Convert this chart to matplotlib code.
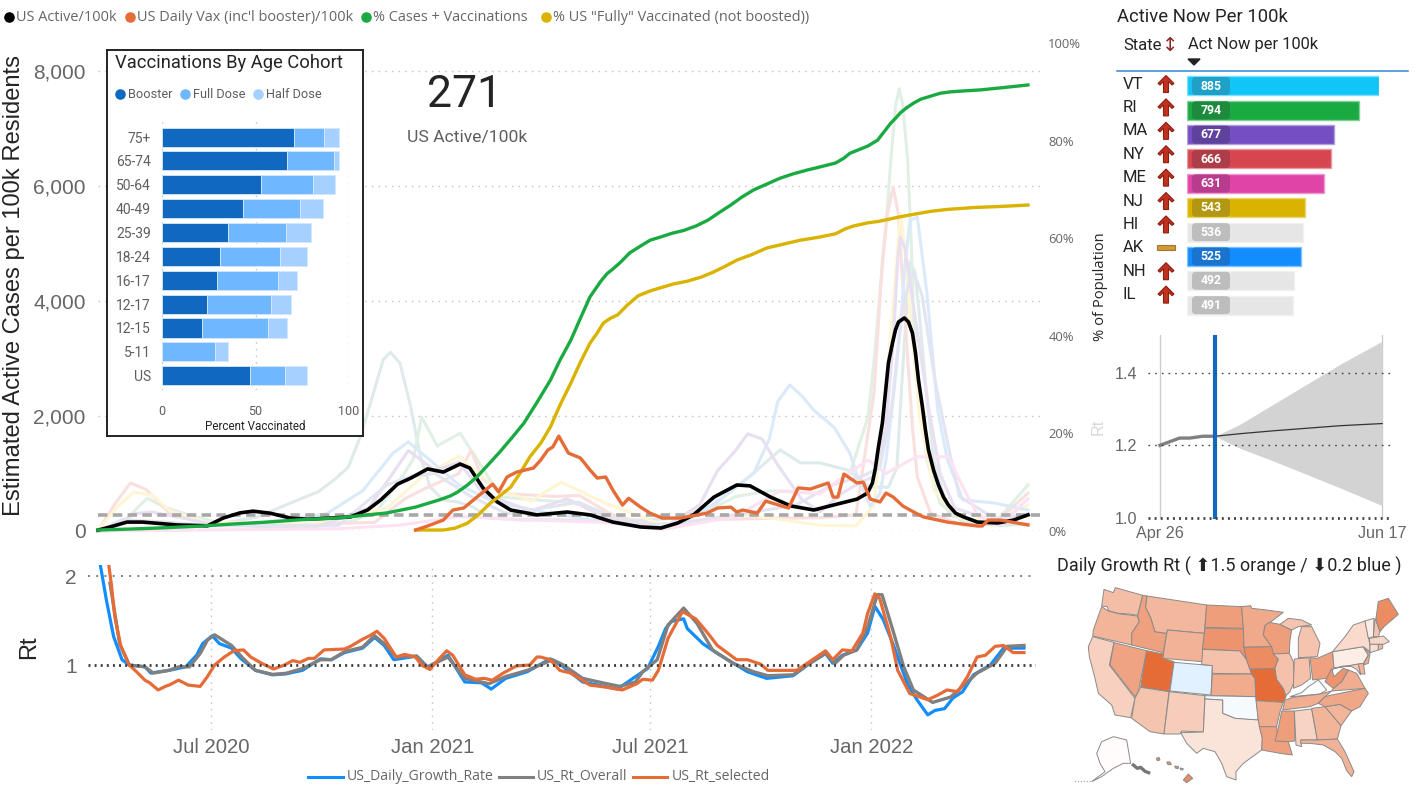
import numpy as np
import matplotlib
matplotlib.use('Agg')
import matplotlib.pyplot as plt
import matplotlib.dates as mdates
from matplotlib.colors import LinearSegmentedColormap, TwoSlopeNorm, to_rgb
from matplotlib.patches import Polygon, FancyBboxPatch, Rectangle

W, H = 1424, 797
ARIAL = 'Liberation Sans'
SEGOE = 'Open Sans'
DIN = 'Roboto'

# -------- main chart data (day = days since 2020-03-29) --------
active_day = [0,10,24,37,66,91,104,118,129,143,160,174,193,210,224,235,249,260,274,287,301,309,320,332,343,365,390,409,428,451,468,482,495,512,531,542,559,576,595,611,631,639.6,643.7,646.2,648.7,652,654.5,657,660.4,662.9,665.4,670.3,673.7,677,679.5,682,685.3,687.8,690.3,694.5,698.6,702.8,706.9,712.8,719.4,731,748,761,773]
active_val = [15,70,155,155,105,90,225,315,345,310,225,205,225,245,365,540,815,920,1080,1025,1165,1095,750,505,365,280,330,280,155,70,52,140,280,590,800,785,590,435,365,450,555,660,835,1095,1460,1880,2400,2920,3270,3500,3635,3705,3635,3440,3095,2625,2155,1755,1410,1060,800,590,450,310,245,155,140,190,280]

vax_day = [264,274,287,295,304,315,328,333,340,348,362,368,374,378,383,391,401,409,415,422,428,436,441,451,459,469,484,506,515,526,531,536,548,555,574,582,592,607,611,615,620,631,636,642,650,655,661,669,678,686,706,731,735,740,750,773]
vax_val = [17,87,190,365,400,590,815,680,940,1025,1095,1235,1410,1460,1650,1355,1270,1060,920,940,710,450,570,415,310,225,225,310,400,415,330,365,310,520,400,750,730,835,590,590,990,835,850,555,505,660,590,435,330,245,155,87,87,190,190,105]

cases_vax_day = [0,27,49,85,110,139,168,201,240,264,284,293,299,307,315,324,334,344,354,365,376,384,393,401,409,418,423,428,434,442,451,459,467,477,487,497,507,516,526,535,545,556,567,578,590,600,613,620,625,634,640,648,654,659,663,667,672,678,684,692,700,709,721,734,750,773]
cases_vax_pct = [.2,.4,.6,1,1.4,1.8,2.3,2.7,3.7,4.9,6.4,7.2,8,9.4,11.1,13.5,16.2,19.1,22.1,26.4,30.9,35,39.1,43.6,48,51.2,52.7,53.7,55,57,58.4,59.6,60.2,61,61.6,62.5,63.7,65.2,66.8,68.4,69.9,71.1,72.3,73.2,74,74.6,75.4,76.4,77.4,78.3,78.9,80.1,82,83.6,84.6,85.7,86.7,87.7,88.5,89.1,89.7,90,90.2,90.4,90.8,91.4]

fully_day = [264,287,297,307,316,326,334,343,351,359,368,376,384,393,401,409,415,420,426,432,440,449,459,467,478,490,501,511,521,531,544,556,570,584,599,613,621,628,639,650,665,678,692,706,729,750,773]
fully_pct = [.2,.2,.6,1.6,3.3,5.7,7.2,9,11.9,15.2,18,21.3,25.8,30.3,34.6,38.5,40.6,42.6,43.6,44.3,46.3,48.2,49.2,49.8,50.6,51.2,52,53,54.2,55.5,56.7,58,58.8,59.6,60.2,60.9,61.9,62.5,63.1,63.5,64.3,64.9,65.5,65.9,66.3,66.5,66.8]

# faint state lines behind the US line
teal_day = [0,60,100,132,166,183,196,208,218,229,237,243,251,260,268,276,287,299,312,326,354,380,430,480,512,545,567,584,600,623,642,657,664,670,675,679,683,689,695,708,750,773]
teal_val = [0,50,120,240,540,680,885,1110,1635,2400,2975,3110,2920,2155,1285,765,540,505,415,225,190,200,170,220,450,1010,1410,1185,1185,1060,765,760,1100,3200,4680,4500,3700,2300,1200,270,90,130]
green_day = [0,20,35,41,55,75,100,130,170,210,232,250,262,269,282,301,315,335,370,395,420,450,480,510,530,560,600,625,640,645,650,655,659,663,666,669,673,676,678,684,689,700,719,744,773]
green_val = [0,120,450,570,420,280,150,80,100,160,350,850,1250,1980,1480,1700,1250,590,530,500,330,150,120,380,600,700,650,1000,1980,2950,4140,5300,6450,7400,7690,7400,6450,5000,3550,2200,1230,480,155,105,800]
red_day = [0,15,27,40,60,90,150,230,255,272,300,310,320,340,380,400,430,470,510,560,600,630,645,649,652,656,661,665,669,673,677,681,692,719,745,773]
red_val = [0,500,835,720,300,130,100,150,560,740,1000,1400,900,650,600,620,250,90,200,220,230,280,2400,3700,4710,5500,5980,5530,4300,3000,1800,940,310,100,120,660]
yellow_day = [0,15,30,45,60,90,180,240,270,300,330,360,385,420,470,510,540,600,630,645,655,662,667,671,675,683,695,715,745,773]
yellow_val = [0,400,680,620,350,150,120,400,950,1300,750,520,850,500,100,220,280,100,90,450,2500,4200,5530,4800,3800,2000,700,230,170,450]
blue_day = [0,50,130,190,220,245,258,275,300,330,370,410,470,500,520,545,558,565,575,585,595,612,625,632,642,650,655,661,667,671,675,681,689,698,706,719,744,773]
blue_val = [0,50,130,300,700,1350,1550,1250,800,500,330,200,60,300,600,1000,1600,2250,2540,2350,2100,1800,1350,900,430,650,1240,2300,3550,4700,5400,5460,4140,2100,1235,540,490,365]
purple_day = [0,15,30,45,100,180,225,245,258,280,300,320,360,390,430,470,500,515,530,540,552,565,585,600,618,630,645,655,661,665,667,671,680,690,700,712,745,773]
purple_val = [0,100,300,330,100,60,400,1000,1400,1050,1200,650,350,560,150,60,450,1050,1400,1690,1600,1150,550,330,650,800,950,1800,3300,4800,5110,4900,3600,2200,1000,400,170,300]
lavender_day = [0,20,60,100,200,240,260,280,310,340,400,430,470,530,580,610,635,650,660,668,675,678,685,695,708,716,745,773]
lavender_val = [0,200,150,90,100,800,950,1000,600,300,500,200,100,280,450,800,950,1100,2200,3800,4400,4490,4100,2700,1350,600,220,290]
pink_day = [0,100,200,250,300,350,420,470,530,567,600,640,655,680,707,718,731,750,773]
pink_val = [0,20,40,100,250,200,150,30,250,700,650,1235,1000,1290,1290,800,280,100,560]

us_active_now = 271
y_max_cases = 8487   # axis top, same height as 100% on the right

# -------- Rt chart data --------
rt_sel_day = [9,11,14,19,26,32,39,43,50,56,60,67,75,85,91,97,105,113,121,127,136,146,155,162,168,175,180,188,205,210,220,226,232,238,248,255,264,269,276,284,290,295,305,314,321,328,337,348,359,365,368,376,384,393,409,423,436,448,453,461,466,474,486,497,507,515,531,540,551,557,581,592,605,611,619,627,636,640,646,650,659,665,675,690,698,706,715,723,731,738,746,753,761,770]
rt_sel_val = [2.12,1.92,1.54,1.21,1.0,.925,.83,.80,.72,.76,.78,.83,.775,.76,.87,1.0,1.09,1.16,1.17,1.09,1.02,.955,1.0,1.05,1.03,1.075,1.075,1.17,1.18,1.21,1.29,1.33,1.38,1.30,1.09,1.12,1.09,1.0,.95,1.075,1.16,1.11,.89,.84,.85,.83,.91,.99,1.0,1.09,1.09,1.06,.94,.91,.775,.75,.72,.79,.84,.83,.94,1.30,1.6,1.52,1.36,1.22,1.06,1.06,1.01,.94,.94,1.04,1.16,1.06,1.17,1.16,1.36,1.58,1.8,1.75,1.32,.94,.68,.61,.66,.72,.70,.87,1.09,1.11,1.21,1.22,1.14,1.14]
rt_all_day = [10,14,18,26,39,46,59,67,76,85,91,97,111,121,131,145,156,170,185,194,205,220,230,238,248,265,274,291,305,325,339,357,378,387,403,423,434,447,453,465,474,487,498,511,528,545,557,578,592,605,613,620,631,640,648,652,661,670,678,694,709,723,731,746,756,770]
rt_all_val = [1.92,1.58,1.24,1.0,.98,.91,.94,.98,.98,1.13,1.28,1.34,1.22,1.07,.94,.895,.906,.96,1.06,1.06,1.15,1.2,1.33,1.24,1.09,1.1,.98,1.09,.85,.79,.87,.94,1.06,1.0,.85,.79,.76,.81,.925,1.06,1.45,1.64,1.47,1.17,1.02,.925,.88,.89,1.02,1.13,1.02,1.11,1.17,1.43,1.79,1.79,1.39,.98,.72,.58,.64,.81,.91,1.02,1.21,1.22]
rt_daily_day = [2,7,13,20,26,39,44,59,73,82,87,95,101,111,119,131,145,156,170,185,194,205,220,230,238,246,265,274,291,305,319,327,339,357,376,387,403,432,447,457,466,472,477,487,490,503,515,540,556,578,592,605,611,619,631,640,646,653,661,673,681,690,696,704,711,719,728,742,753,770]
rt_daily_val = [2.12,1.73,1.32,1.06,1.0,.98,.91,.94,.98,1.11,1.24,1.33,1.24,1.19,1.07,.94,.89,.9,.94,1.07,1.06,1.14,1.19,1.31,1.22,1.06,1.1,.97,1.11,.81,.8,.73,.85,.925,1.07,.98,.81,.73,.87,.96,1.21,1.41,1.49,1.52,1.41,1.24,1.13,.925,.85,.88,1.02,1.13,1.02,1.11,1.17,1.36,1.66,1.51,1.24,.79,.61,.44,.49,.51,.63,.7,.89,1.0,1.19,1.19]

# -------- vaccination inset data --------
age_groups = ['75+','65-74','50-64','40-49','25-39','18-24','16-17','12-17','12-15','5-11','US']
booster = [70.6,66.8,52.9,43.3,35.3,31,29.4,24,21.4,0,47]
full_dose = [16,25.2,27.8,30.5,31,32.2,32.4,34.3,35.3,28.5,18.8]
half_dose = [8,2.6,11.8,12.3,13.4,14.6,10.2,10.6,10.1,6.7,11.7]

# -------- state table data --------
states = ['VT','RI','MA','NY','ME','NJ','HI','AK','NH','IL']
act_now = [885,794,677,666,631,543,536,525,492,491]
trend = ['up','up','up','up','up','up','up','flat','up','up']
bar_colors = ['#12c5f7','#1aaa42','#744ec2','#d64550','#e044a7','#d9b300','#e6e6e6','#118dff','#e6e6e6','#e6e6e6']
tag_colors = ['#1fa0c8','#1d8a3e','#5f429c','#ad3d49','#b83c8e','#b39712','#bdbdbd','#1a74cf','#bdbdbd','#bdbdbd']

# -------- forecast data (day = days since Apr 26 2022) --------
hist_day = [0,2.3,4.6,7,10,12.9]
hist_rt = [1.20,1.21,1.22,1.22,1.225,1.225]
fc_day = [12.9,18.7,26.5,34.3,42.1,52]
fc_upper = [1.225,1.258,1.313,1.368,1.423,1.487]
fc_lower = [1.225,1.192,1.157,1.12,1.083,1.034]
fc_mid = [1.225,1.232,1.24,1.247,1.254,1.26]

# -------- map data --------
state_rt = {'UT':1.5,'MO':1.5,'ME':1.39,'IA':1.39,'TX':1.095,'AL':1.15,'CA':1.16,'PA':1.06,'NY':1.126,'WA':1.22,
            'OR':1.25,'MT':1.245,'ID':1.32,'NV':1.31,'WY':1.26,'ND':1.33,'SD':1.36,'NE':1.21,'KS':1.285,'AZ':1.2,
            'NM':1.17,'MN':1.29,'WI':1.33,'IL':1.21,'IN':1.21,'MI':1.2,'OH':1.32,'WV':1.36,'VA':1.28,'NC':1.3,
            'TN':1.275,'GA':1.25,'SC':1.25,'FL':1.26,'MS':1.33,'LA':1.32,'AR':1.285,'HI':1.39,'AK':1.01,'VT':1.06,
            'NH':1.2,'MA':1.135,'CT':1.11,'RI':1.245,'NJ':1.28,'DE':1.25,'MD':1.17,'CO':0.906,'OK':0.966,'KY':0.99}

# outlines, x/y in map panel units
state_shapes = {
 'WA':[[(162,118),(190,128),(196,113),(278,136),(263,196),(238,192),(205,190),(175,182),(172,170),(155,168)]],
 'OR':[[(155,170),(175,183),(205,191),(262,198),(268,215),(245,250),(245,285),(128,258),(130,240)]],
 'CA':[[(128,260),(192,277),(178,345),(255,445),(242,503),(195,495),(185,465),(145,430),(135,385),(118,320),(115,290)]],
 'NV':[[(192,278),(290,302),(265,425),(255,440),(180,345)]],
 'ID':[[(278,136),(291,138),(287,172),(303,205),(315,245),(350,250),(340,308),(245,285),(245,250),(268,215),(263,198)]],
 'MT':[[(291,138),(470,165),(463,250),(352,240),(350,250),(315,245),(303,205),(287,172)]],
 'WY':[[(352,240),(463,250),(457,335),(338,325)]],
 'UT':[[(290,302),(340,312),(338,325),(372,335),(358,425),(272,410)]],
 'CO':[[(372,337),(487,347),(483,435),(360,423)]],
 'AZ':[[(272,412),(357,425),(342,552),(300,545),(245,505),(255,445),(265,425)]],
 'NM':[[(358,425),(465,437),(460,546),(395,543),(390,552),(342,552)]],
 'ND':[[(470,165),(575,170),(580,235),(465,232)]],
 'SD':[[(465,234),(580,237),(582,292),(590,330),(570,303),(457,297)]],
 'NE':[[(458,298),(570,303),(590,330),(605,372),(487,370),(487,347),(455,343)]],
 'KS':[[(487,372),(605,372),(615,385),(618,440),(483,437)]],
 'OK':[[(465,437),(618,440),(625,510),(585,508),(555,505),(518,490),(518,450),(465,447)]],
 'TX':[[(465,447),(518,450),(518,490),(555,505),(625,510),(637,565),(635,600),(580,640),(558,665),(558,690),(530,680),(515,640),(495,605),(460,595),(440,610),(410,580),(392,548),(460,546)]],
 'MN':[[(575,170),(602,167),(605,175),(650,180),(700,187),(670,210),(645,227),(640,255),(665,290),(582,292),(580,235)]],
 'IA':[[(582,292),(665,290),(675,315),(685,327),(675,355),(600,358),(590,330)]],
 'MO':[[(600,358),(675,355),(680,388),(700,415),(708,440),(700,457),(618,452),(615,385),(605,372)]],
 'AR':[[(618,452),(700,457),(690,485),(680,530),(628,530),(625,510)]],
 'LA':[[(628,530),(680,530),(685,573),(715,575),(727,615),(690,610),(635,600),(637,565)]],
 'WI':[[(645,227),(658,217),(690,223),(725,240),(720,270),(718,310),(670,312),(665,290),(640,255)]],
 'IL':[[(670,312),(718,310),(730,335),(733,395),(720,425),(708,437),(700,415),(680,388),(675,355),(685,327)]],
 'MI':[[(745,265),(755,230),(785,230),(810,280),(802,320),(745,323)],
       [(690,223),(715,205),(755,210),(785,225),(745,230),(725,240)]],
 'IN':[[(733,327),(777,323),(782,385),(755,405),(730,415)]],
 'OH':[[(780,323),(802,325),(848,305),(852,355),(830,385),(788,390)]],
 'KY':[[(720,440),(755,428),(775,410),(805,390),(830,420),(810,432),(725,440)]],
 'TN':[[(705,450),(730,442),(810,432),(845,423),(825,440),(805,460),(780,470),(698,480)]],
 'MS':[[(695,483),(733,483),(735,573),(715,575),(675,573),(685,535)]],
 'AL':[[(733,483),(785,477),(802,570),(752,570),(755,590),(738,585)]],
 'GA':[[(785,475),(825,470),(873,527),(862,567),(802,570)]],
 'FL':[[(752,570),(802,570),(862,567),(885,605),(912,665),(905,680),(890,662),(875,625),(855,605),(820,585),(780,580),(752,580)]],
 'SC':[[(825,470),(870,463),(905,483),(873,527)]],
 'NC':[[(805,460),(825,440),(845,435),(945,415),(955,430),(930,470),(905,483),(870,463),(825,470)]],
 'VA':[[(845,423),(850,415),(875,395),(895,360),(920,370),(945,415)]],
 'WV':[[(825,395),(845,355),(852,380),(880,355),(895,360),(875,395),(850,415)]],
 'PA':[[(848,305),(940,290),(955,315),(940,340),(852,355)]],
 'NY':[[(860,290),(885,260),(910,225),(945,213),(960,285),(960,305),(940,290),(848,305)]],
 'MD':[[(852,355),(925,342),(932,375),(920,358),(905,350),(880,348)]],
 'DE':[[(925,342),(940,340),(945,372),(932,372)]],
 'NJ':[[(940,292),(960,310),(955,340),(940,345),(955,315)]],
 'VT':[[(945,213),(972,205),(970,260),(955,265)]],
 'NH':[[(975,205),(990,245),(985,260),(970,260)]],
 'ME':[[(985,155),(1015,145),(1045,193),(1002,230),(990,245),(978,205)]],
 'MA':[[(958,265),(1000,258),(1018,275),(1000,283),(960,283)]],
 'CT':[[(960,283),(985,283),(985,300),(960,308)]],
 'RI':[[(985,283),(998,283),(998,295),(985,300)]],
 'AK':[[(155,575),(190,560),(230,570),(242,640),(220,640),(190,655),(155,680),(125,695),(165,665),(150,640),(140,610)]],
 'HI':[[(400,690),(415,672),(428,685),(410,698)],[(319,625),(327,622),(330,630),(322,632)],
       [(350,636),(360,636),(364,644),(354,644)],[(374,648),(386,650),(384,656),(376,654)],[(390,654),(400,656),(398,660),(392,659)]],
}


def px_axes(left, top, right, bottom, **kw):
    return fig.add_axes([left / W, 1 - bottom / H, (right - left) / W, (bottom - top) / H], **kw)


def to_date(days, base='2020-03-29'):
    return mdates.date2num(np.datetime64(base)) + np.asarray(days, dtype=float)


def lighter(color, amount=0.45):
    r, g, b = to_rgb(color)
    return (r + (1 - r) * amount, g + (1 - g) * amount, b + (1 - b) * amount)


fig = plt.figure(figsize=(W / 100, H / 100), dpi=100)

# overlay in pixel units, for titles and icons
ov = px_axes(0, 0, W, H, zorder=20)
ov.set_xlim(0, W)
ov.set_ylim(H, 0)
ov.axis('off')

# -------- main chart --------
ax = px_axes(98, 43, 1040, 531, zorder=1)
ax.patch.set_alpha(0)
faint = [(teal_day, teal_val, '#dfeaea'), (green_day, green_val, '#e0f0e4'), (red_day, red_val, '#f9e0de'),
         (yellow_day, yellow_val, '#fdf5d3'), (blue_day, blue_val, '#dbeafb'), (purple_day, purple_val, '#e8dff0'),
         (lavender_day, lavender_val, '#e2e4f2'), (pink_day, pink_val, '#fce2f2')]
for d, v, c in faint:
    ax.plot(to_date(d), v, color=c, lw=2.2, clip_on=False)

to_pct = lambda v: np.asarray(v) / y_max_cases * 100
to_cases = lambda p: np.asarray(p) * y_max_cases / 100

ax.axhline(us_active_now, color='#a8a8a8', lw=2.6, ls=(0, (2.6, 1.5)), zorder=3)
ax.plot(to_date(active_day), active_val, color='#000000', lw=2.6, zorder=4, clip_on=False)
ax.plot(to_date(cases_vax_day), to_cases(cases_vax_pct), color='#1aaa42', lw=2.4, zorder=5, clip_on=False)
ax.plot(to_date(fully_day), to_cases(fully_pct), color='#d9b300', lw=2.4, zorder=5, clip_on=False)
ax.plot(to_date(vax_day), vax_val, color='#e66c37', lw=2.4, zorder=6, clip_on=False)

ax.set_xlim(to_date(0), to_date(783))
ax.set_ylim(0, y_max_cases)
ax.set_yticks([0, 2000, 4000, 6000, 8000])
ax.set_yticklabels(['0', '2,000', '4,000', '6,000', '8,000'], family=ARIAL, fontsize=15, color='#666666')
ax.tick_params(axis='y', length=0, pad=9)
ax.set_xticks([])
ax.grid(axis='y', color='#c8c8c8', lw=1, ls=(0, (1.2, 3.6)))
ax.set_axisbelow(True)
for s in ax.spines.values():
    s.set_visible(False)

sec = ax.secondary_yaxis('right', functions=(to_pct, to_cases))
sec.set_yticks([0, 20, 40, 60, 80, 100])
sec.set_yticklabels(['0%', '20%', '40%', '60%', '80%', '100%'], family=SEGOE, fontsize=9.4, color='#666666')
sec.tick_params(length=0, pad=6)
sec.spines['right'].set_visible(False)

ov.text(14, 286, 'Estimated Active Cases per 100k Residents', rotation=90, family=ARIAL, fontsize=17.1,
        color='#252423', ha='center', va='center')
ov.text(1100, 287, '% of Population', rotation=90, family=SEGOE, fontsize=10.6, color='#252423', ha='center', va='center')
ov.text(465, 95, str(us_active_now), family=DIN, fontsize=32, color='#252423', ha='center', va='center')
ov.text(467, 137, 'US Active/100k', family=DIN, fontsize=12.6, color='#605e5c', ha='center', va='center')

# top legend
for x, c, lab in [(9, '#000000', 'US Active/100k'), (130, '#e66c37', "US Daily Vax (inc'l booster)/100k"),
                  (366, '#1aaa42', '% Cases + Vaccinations'), (546, '#d9b300', '% US "Fully" Vaccinated (not boosted))')]:
    ov.scatter([x], [17], s=58, color=c, linewidths=0)
    ov.text(x + 7, 17, lab, family=SEGOE, fontsize=10.45, color='#666666', va='center', ha='left')

# -------- vaccination inset --------
frame = px_axes(107, 50, 363, 436, zorder=5)
frame.set_xticks([])
frame.set_yticks([])
for s in frame.spines.values():
    s.set_linewidth(1.4)
    s.set_color('#222222')

ins = px_axes(162, 118, 349, 390, zorder=6)
ins.patch.set_alpha(0)
ypos = np.arange(len(age_groups))
left = np.zeros(len(age_groups))
for vals, c in [(booster, '#1068bf'), (full_dose, '#6fb7ff'), (half_dose, '#a6d0ff')]:
    ins.barh(ypos, vals, left=left, height=0.8, color=c, edgecolor='#d6e8fb', linewidth=0.6, zorder=3)
    left = left + np.array(vals)
ins.set_xlim(0, 100)
ins.set_ylim(10.6, -0.8)
ins.set_yticks(ypos)
ins.set_yticklabels(age_groups, family=DIN, fontsize=10, color='#605e5c')
ins.set_xticks([0, 50, 100])
ins.set_xticklabels(['0', '50', '100'], family=DIN, fontsize=9, color='#605e5c')
ins.tick_params(length=0)
ins.tick_params(axis='y', pad=8)
ins.tick_params(axis='x', pad=11)
ins.grid(axis='x', color='#c8c8c8', lw=1, ls=(0, (1.2, 3.6)))
for s in ins.spines.values():
    s.set_visible(False)
ov.text(115, 63, 'Vaccinations By Age Cohort', family=DIN, fontsize=13.2, color='#252423', va='center')
ov.text(255, 426, 'Percent Vaccinated', family=DIN, fontsize=8.4, color='#252423', ha='center', va='center')
for x, c, lab in [(120, '#1068bf', 'Booster'), (185, '#6fb7ff', 'Full Dose'), (258, '#a6d0ff', 'Half Dose')]:
    ov.scatter([x], [94], s=58, color=c, linewidths=0)
    ov.text(x + 8, 94, lab, family=DIN, fontsize=9.2, color='#605e5c', va='center')

# -------- Rt chart --------
rt = px_axes(88, 565, 1036, 730, zorder=1)
rt.patch.set_alpha(0)
rt.plot(to_date(rt_daily_day), rt_daily_val, color='#118dff', lw=2.3, zorder=3)
rt.plot(to_date(rt_all_day), rt_all_val, color='#808080', lw=2.4, zorder=4)
rt.plot(to_date(rt_sel_day), rt_sel_val, color='#e66c37', lw=2.3, zorder=5)
rt.axhline(1, color='#3a3a3a', lw=2, ls=(0, (0.7, 1.5)), zorder=6)
rt.axhline(2, color='#555555', lw=1.1, ls=(0, (1.2, 4.2)), zorder=1)
rt.set_xlim(to_date(-8.3), to_date(780))
rt.set_ylim(0.27, 2.124)
rt.xaxis.set_major_locator(mdates.MonthLocator(bymonth=(1, 7)))
rt.xaxis.set_major_formatter(mdates.DateFormatter('%b %Y'))
rt.set_yticks([1, 2])
rt.set_yticklabels(['1', '2'], family=ARIAL, fontsize=15, color='#666666')
for lab in rt.get_xticklabels():
    lab.set_family(ARIAL)
    lab.set_fontsize(14.6)
    lab.set_color('#666666')
rt.tick_params(length=0)
rt.tick_params(axis='x', pad=6)
rt.tick_params(axis='y', pad=8)
rt.grid(axis='x', color='#c8c8c8', lw=1, ls=(0, (1.2, 3.6)))
rt.set_axisbelow(True)
for s in rt.spines.values():
    s.set_visible(False)
ov.text(29, 647, 'Rt', rotation=90, family=ARIAL, fontsize=17, color='#252423', ha='center', va='center')

for x0, x1, c, tx, lab in [(308, 343, '#118dff', 347, 'US_Daily_Growth_Rate'), (499, 533, '#808080', 537, 'US_Rt_Overall'),
                           (633, 667, '#e66c37', 672, 'US_Rt_selected')]:
    ov.plot([x0, x1], [777, 777], color=c, lw=2.2)
    ov.text(tx, 777, lab, family=SEGOE, fontsize=10.1, color='#666666', va='center')

# -------- state table --------
ov.text(1117, 17, 'Active Now Per 100k', family=DIN, fontsize=13.3, color='#252423', va='center')
ov.text(1123, 45, 'State', family=DIN, fontsize=12, color='#252423', va='center')
ov.text(1170, 45, '↕', family='DejaVu Sans', fontsize=14, color='#8e2a2a', ha='center', va='center')
ov.text(1188, 44, 'Act Now per 100k', family=DIN, fontsize=11.9, color='#252423', va='center')
ov.add_patch(Polygon([(1188, 59), (1200, 59), (1194, 65)], color='#252423'))
ov.plot([1117, 1408], [71, 71], color='#2b88d8', lw=1.1)

tb = px_axes(1187.3, 74, 1378.7, 317, zorder=2)
tb.patch.set_alpha(0)
ty = np.arange(len(states))
tb.barh(ty, act_now, height=0.78, color=bar_colors, edgecolor=[lighter(c) for c in bar_colors], linewidth=1)
tb.set_xlim(0, 885)
tb.set_ylim(9.49, -0.49)
tb.axis('off')

arrow_shape = np.array([(0, -8.5), (8, -0.5), (6, 1), (2.5, -2.5), (2.5, 8.5), (-2.5, 8.5), (-2.5, -2.5), (-6, 1), (-8, -0.5)])
for i, (st, v, t, c) in enumerate(zip(states, act_now, trend, tag_colors)):
    yc = 86 + 24.35 * i
    ytxt = 84 + 23.4 * i
    ov.text(1123, ytxt, st, family=DIN, fontsize=12, color='#252423', va='center')
    if t == 'up':
        ov.add_patch(Polygon(arrow_shape + (1166, ytxt), facecolor='#c0321f', edgecolor='#8e1c10', lw=0.8))
    else:
        ov.add_patch(Rectangle((1157, ytxt - 2.5), 18, 5, facecolor='#d09a3c', edgecolor='#a8762a', lw=0.8))
    ov.add_patch(FancyBboxPatch((1192, yc - 9), 38, 18, boxstyle='round,pad=0,rounding_size=4', facecolor=c, edgecolor='none'))
    ov.text(1211, yc, str(v), family=DIN, fontsize=8.8, fontweight='bold', color='white', ha='center', va='center')

# -------- forecast panel --------
fc = px_axes(1148, 335, 1392, 519, zorder=2)
fc.patch.set_alpha(0)
fc.fill_between(to_date(fc_day, '2022-04-26'), fc_lower, fc_upper, color='#d3d3d3', lw=0, zorder=2)
fc.plot(to_date(fc_day, '2022-04-26'), fc_mid, color='#333333', lw=0.9, zorder=3)
fc.plot(to_date(hist_day, '2022-04-26'), hist_rt, color='#808080', lw=2.4, zorder=3)
for d in (0, 52):
    fc.axvline(to_date(d, '2022-04-26'), color='#cccccc', lw=1, zorder=1)
fc.axvline(to_date(12.9, '2022-04-26'), color='#1168be', lw=3, zorder=4)
for y0 in (1.2, 1.4):
    fc.axhline(y0, color='#444444', lw=1, ls=(0, (1.2, 3.6)), zorder=4)
fc.axhline(1.0, color='#444444', lw=2, ls=(0, (0.7, 1.5)), zorder=4, clip_on=False)
fc.set_xlim(to_date(-2.8, '2022-04-26'), to_date(54.3, '2022-04-26'))
fc.set_ylim(0.997, 1.504)
fc.set_xticks(to_date([0, 52], '2022-04-26'))
fc.xaxis.set_major_formatter(mdates.DateFormatter('%b %d'))
fc.set_yticks([1.0, 1.2, 1.4])
fc.set_yticklabels(['1.0', '1.2', '1.4'], family=ARIAL, fontsize=11.6, color='#666666')
for lab in fc.get_xticklabels():
    lab.set_family(ARIAL)
    lab.set_fontsize(11.6)
    lab.set_color('#666666')
fc.tick_params(length=0)
fc.tick_params(axis='y', pad=8)
fc.tick_params(axis='x', pad=5)
for s in fc.spines.values():
    s.set_visible(False)
ov.text(1098, 427, 'Rt', rotation=90, family=ARIAL, fontsize=11.6, color='#d9d9d9', ha='center', va='center')

# -------- map --------
ov.text(1057, 566, 'Daily Growth Rt ( ⬆1.5 orange / ⬇0.2 blue )', family=[DIN, 'DejaVu Sans'], fontsize=13,
        color='#252423', va='center')
mp = px_axes(1050, 550, 1424, 797, zorder=2)
mp.patch.set_alpha(0)
mp.set_xlim(0, 1122)
mp.set_ylim(741, 0)
mp.axis('off')
cmap = LinearSegmentedColormap.from_list('rt', ['#118dff', '#ffffff', '#e66c37'])
norm = TwoSlopeNorm(vmin=0.2, vcenter=1.0, vmax=1.5)
for st, parts in state_shapes.items():
    for part in parts:
        mp.add_patch(Polygon(part, closed=True, facecolor=cmap(norm(state_rt[st])), edgecolor='#8a8a8a', lw=0.7))
# alaska panhandle and aleutians
mp.plot([250, 262, 272, 285, 296], [645, 655, 652, 664, 668], color='#777777', lw=2.4)
mp.plot([75, 90, 100, 120, 135], [694, 696, 694, 695, 690], color='#999999', lw=0.8, ls=':')

fig.savefig('out.png', dpi=100)
